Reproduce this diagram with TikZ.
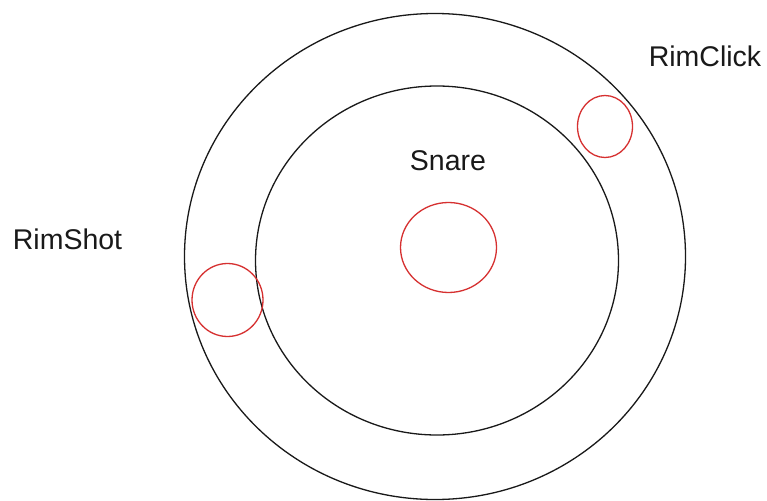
\documentclass[tikz,border=0pt]{standalone}
\usepackage{fontspec}
\setmainfont{Liberation Sans}
\definecolor{padred}{RGB}{214,48,48}
\definecolor{ink}{RGB}{25,25,25}
\begin{document}
\begin{tikzpicture}[x=1pt,y=-1pt,
  rim/.style={draw=ink,line width=1.3pt},
  pad/.style={draw=padred,line width=1.3pt},
  lbl/.style={font=\fontsize{28.5}{31}\selectfont,text=ink,anchor=base,inner sep=0pt}]
\useasboundingbox[fill=white] (0,0) rectangle (767,500);
% drum
\draw[rim] (435,256.5) ellipse [x radius=250.5, y radius=243];
\draw[rim] (437,260.5) ellipse [x radius=181.5, y radius=174.5];
% pads
\draw[pad] (448.5,247.5) ellipse [x radius=48, y radius=45];
\draw[pad] (605,126.5) ellipse [x radius=27.5, y radius=31];
\draw[pad] (227.5,300) ellipse [x radius=35.5, y radius=36.5];
% labels
\node[lbl] (rimclick) at (705,67) {RimClick};
\node[lbl] (snare) at (448,170) {Snare};
\node[lbl] (rimshot) at (67.5,249) {RimShot};
\end{tikzpicture}
\end{document}
